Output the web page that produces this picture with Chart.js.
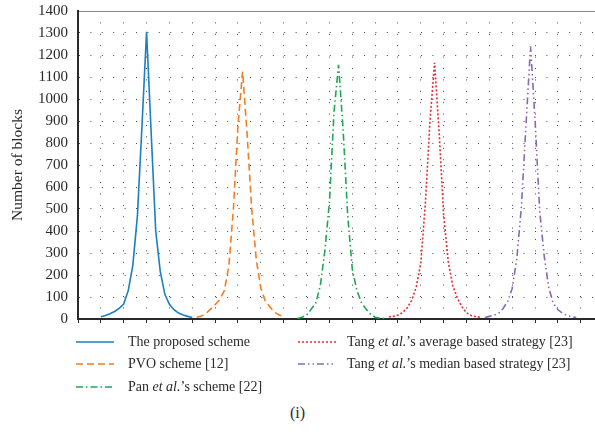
<!DOCTYPE html>
<html>
<head>
<meta charset="utf-8">
<script src="https://cdn.jsdelivr.net/npm/chart.js@4/dist/chart.umd.min.js"></script>
<style>
  html, body { margin: 0; padding: 0; background: #fff; overflow: hidden; }
  body { width: 595px; height: 432px; position: relative; font-family: 'Liberation Serif', 'DejaVu Serif', serif; color: #2a2a2a; }
  #wrap { position: absolute; left: 0; top: -8px; width: 595px; height: 346px; }
  .item { position: absolute; height: 20px; line-height: 20px; font-size: 14px; white-space: nowrap; }
  .item svg { position: absolute; left: 0; top: 0; }
  .item span { position: absolute; top: 0; }
  #caption { position: absolute; left: 0; width: 595px; top: 404px; text-align: center; font-size: 16px; }
</style>
</head>
<body>
<div id="wrap"><canvas id="chart"></canvas></div>
<div id="legend"></div>
<div id="caption">(i)</div>
<script>
// x is a bin index: 5 bins per axis tick
const seriesNames = [
  'The proposed scheme',
  'PVO scheme [12]',
  'Pan <i>et al.</i>’s scheme [22]',
  'Tang <i>et al.</i>’s average based strategy [23]',
  'Tang <i>et al.</i>’s median based strategy [23]'
];
const seriesStart = [5, 26, 48, 68, 89];

const proposed = [10, 16, 24, 34, 48, 68, 130, 245, 470, 880, 1305, 850, 400, 215, 112, 67, 42, 27, 18, 12, 7];
const pvo = [8, 14, 25, 45, 65, 88, 128, 240, 500, 880, 1125, 840, 500, 270, 140, 80, 55, 30, 18, 12];
const pan = [2, 8, 18, 44, 72, 150, 310, 530, 940, 1155, 860, 470, 228, 130, 75, 45, 22, 8, 4, 2];
const tangAvg = [10, 12, 18, 29, 50, 85, 145, 256, 530, 900, 1165, 848, 470, 260, 150, 95, 55, 28, 16, 11, 8];
const tangMed = [7, 12, 17, 26, 48, 80, 140, 275, 510, 880, 1240, 900, 490, 285, 140, 70, 42, 26, 16, 10, 7];

const yTicks = [0, 100, 200, 300, 400, 500, 600, 700, 800, 900, 1000, 1100, 1200, 1300, 1400];

const colors = ['#1b7fc3', '#f47d22', '#1ea855', '#ea2b30', '#8a68b4'];
const dashes = [[], [7, 4], [7, 3, 1.5, 3], [2, 2], [7, 3, 1.5, 3, 1.5, 3]];

const FONT = "'Liberation Serif', 'DejaVu Serif', serif";

function toPoints(start, values) {
  return values.map((v, i) => ({ x: start + i, y: v }));
}

const allValues = [proposed, pvo, pan, tangAvg, tangMed];

const data = {
  datasets: allValues.map((vals, i) => ({
    label: seriesNames[i],
    data: toPoints(seriesStart[i], vals),
    borderColor: colors[i],
    borderDash: dashes[i],
    borderWidth: 1.6,
    pointRadius: 0,
    tension: 0,
    fill: false,
  })),
};

const dotted = [1, 10.4];

new Chart(document.getElementById('chart').getContext('2d'), {
  type: 'line',
  data,
  options: {
    animation: false,
    responsive: true,
    maintainAspectRatio: false,
    layout: { padding: { top: 2, right: 0, bottom: 0, left: 0 } },
    plugins: { legend: { display: false }, tooltip: { enabled: false } },
    scales: {
      x: {
        type: 'linear',
        min: 0,
        max: 113.1,
        ticks: { display: false, stepSize: 5, includeBounds: false },
        grid: {
          color: (ctx) => (ctx.tick && ctx.tick.value === 0 ? 'rgba(0,0,0,0)' : '#4a4a4a'),
          lineWidth: 1,
          drawTicks: true,
          tickLength: 4,
          tickColor: '#2a2a2a',
          tickWidth: 1,
        },
        border: { display: true, color: '#2a2a2a', width: 2, dash: dotted },
        afterFit: (scale) => { scale.height = 12; },
      },
      y: {
        min: 0,
        max: 1400,
        afterBuildTicks: (scale) => { scale.ticks = yTicks.map((v) => ({ value: v })); },
        ticks: {
          color: '#2a2a2a',
          padding: 10,
          font: { family: FONT, size: 15 },
          callback: (v) => String(v),
        },
        grid: {
          color: (ctx) => {
            if (!ctx.tick) return '#4a4a4a';
            if (ctx.tick.value === 0) return 'rgba(0,0,0,0)';
            if (ctx.tick.value === 1400) return '#8a8a8a';
            return '#4a4a4a';
          },
          lineWidth: 1,
          drawTicks: false,
        },
        border: {
          display: true,
          color: '#2a2a2a',
          width: 2,
          dash: (ctx) => (ctx.tick && ctx.tick.value === 1400 ? [] : dotted),
        },
        title: {
          display: true,
          text: 'Number of blocks',
          color: '#2a2a2a',
          font: { family: FONT, size: 15.5 },
          padding: { top: 9, bottom: 0 },
        },
        afterFit: (scale) => { scale.width = 78; },
      },
    },
  },
});

// legend in two columns under the plot
const legendPos = [
  { x: 76, y: 332 },
  { x: 76, y: 354 },
  { x: 76, y: 377 },
  { x: 298, y: 332 },
  { x: 298, y: 354 },
];
const legendEl = document.getElementById('legend');
seriesNames.forEach((name, i) => {
  const p = legendPos[i];
  const item = document.createElement('div');
  item.className = 'item';
  item.style.left = p.x + 'px';
  item.style.top = p.y + 'px';
  const dash = dashes[i].length ? dashes[i].join(' ') : 'none';
  item.innerHTML =
    `<svg width="38" height="20"><line x1="0" y1="10" x2="38" y2="10" stroke="${colors[i]}" stroke-width="1.6" stroke-dasharray="${dash}"/></svg>` +
    `<span style="left:${i < 3 ? 52 : 49}px">${name}</span>`;
  legendEl.appendChild(item);
});
</script>
</body>
</html>
